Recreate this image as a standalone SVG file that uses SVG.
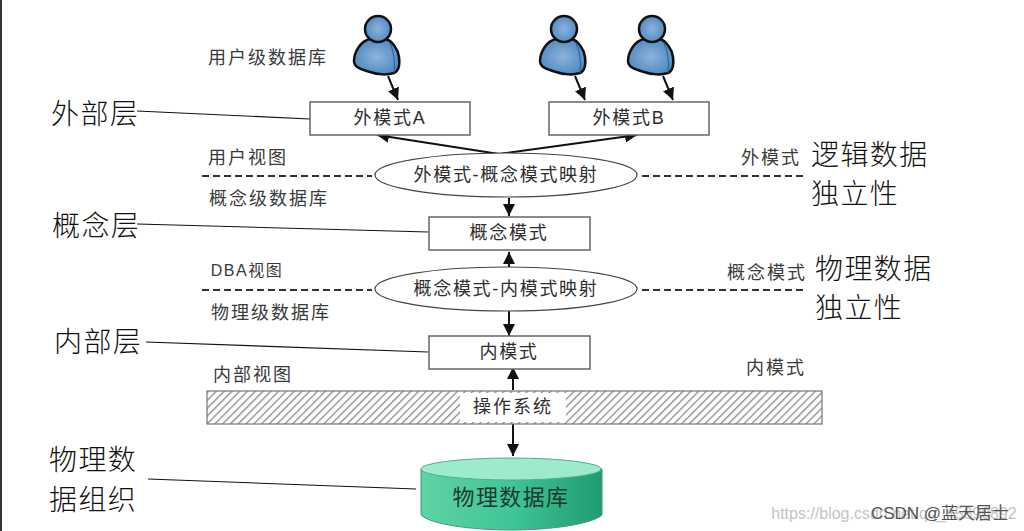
<svg xmlns="http://www.w3.org/2000/svg" width="1024" height="531" viewBox="0 0 1024 531">
<style>
text{font-family:"Liberation Sans","Noto Sans CJK SC",sans-serif;text-anchor:middle}
.s{font-size:18px;fill:#3a3a3a;letter-spacing:2px}
.n{font-size:18px;fill:#2e2e2e;letter-spacing:1.7px}
.l{font-size:28px;fill:#111;font-weight:300;text-anchor:start;letter-spacing:1.4px}
.box{fill:#fff;stroke:#666;stroke-width:1.5}
.ell{fill:#fff;stroke:#444;stroke-width:1.2}
.a{stroke:#111;stroke-width:2;fill:none;marker-end:url(#ah)}
.d{stroke:#333;stroke-width:2;stroke-dasharray:7 4;fill:none}
.t{stroke:#111;stroke-width:1.1;fill:none}
.body{fill:url(#blue);stroke:#111;stroke-width:2.5}
</style>
<defs>
<marker id="ah" markerUnits="userSpaceOnUse" markerWidth="13" markerHeight="12" refX="12" refY="6" orient="auto"><path d="M0 0L12 6L0 12z" fill="#111"/></marker>
<pattern id="h" patternUnits="userSpaceOnUse" width="5.5" height="5.5" patternTransform="rotate(-45)"><rect width="5.5" height="5.5" fill="#fff"/><rect width="5.5" height="1.3" fill="#8a8a8a"/></pattern>
<radialGradient id="blue" cx=".5" cy=".5" r=".7"><stop offset="0" stop-color="#8db4dc"/><stop offset="1" stop-color="#3d7cb8"/></radialGradient>
<linearGradient id="cyl" x1="0" x2="1" y1="0" y2="0"><stop offset="0" stop-color="#5fd3a5"/><stop offset=".5" stop-color="#3fc596"/><stop offset="1" stop-color="#1f9c72"/></linearGradient>
<g id="user"><path d="M-8 10C-18 12 -24 24 -24 32C-24 38 -18 40 -8 43C0 46 10 46 16 44C21 42 22 36 21 28C20 20 14 12 8 10Z" class="body"/><path d="M12 14Q18 28 16 44" fill="none" stroke="#2a5f92" stroke-width="1"/><circle r="13" class="body"/></g>
</defs>
<rect width="1024" height="531" fill="#fff"/>
<rect x="0" y="0" width="2" height="531" fill="#333"/>
<g id="connectors">
<path class="a" d="M388 76L398 100"/>
<path class="a" d="M575 76L585 100"/>
<path class="a" d="M663 76L673 100"/>
<path class="a" d="M499 154L377 135"/>
<path class="a" d="M499 154L637 135"/>
<path class="a" d="M509 198V216"/>
<path class="a" d="M509 270V252"/>
<path class="a" d="M509 311V336"/>
<path class="a" d="M513 390V367"/>
<path class="a" d="M513 424V456"/>
<path class="d" d="M202 176H372"/>
<path class="d" d="M642 176H805"/>
<path class="d" d="M202 290H372"/>
<path class="d" d="M642 290H805"/>
<path class="t" d="M137 111L310 119"/>
<path class="t" d="M137 224L428 232"/>
<path class="t" d="M146 342L428 352"/>
<path class="t" d="M148 479L416 489"/>
</g>
<g id="user-a"><use href="#user" x="378" y="29"/></g>
<g id="user-b"><use href="#user" x="564" y="29"/></g>
<g id="user-c"><use href="#user" x="652" y="29"/></g>
<g id="ext-a"><rect class="box" x="310" y="102" width="160" height="33"/><text class="n" x="390" y="124">外模式A</text></g>
<g id="ext-b"><rect class="box" x="549" y="102" width="160" height="33"/><text class="n" x="629" y="124">外模式B</text></g>
<g id="map1"><ellipse class="ell" cx="506" cy="175" rx="131" ry="22"/><text class="n" x="506" y="181">外模式-概念模式映射</text></g>
<g id="concept"><rect class="box" x="429" y="217" width="161" height="33"/><text class="n" x="509" y="239">概念模式</text></g>
<g id="map2"><ellipse class="ell" cx="506" cy="289" rx="131" ry="22"/><text class="n" x="506" y="295">概念模式-内模式映射</text></g>
<g id="internal"><rect class="box" x="429" y="336" width="161" height="33"/><text class="n" x="509" y="358">内模式</text></g>
<g id="os"><rect x="207" y="391" width="615" height="33" fill="url(#h)" stroke="#777" stroke-width="1.2"/><rect x="460" y="393" width="106" height="29" fill="#fff"/><text class="n" x="513" y="413" style="letter-spacing:2px">操作系统</text></g>
<g id="db"><path d="M421 469V515C430 524 470 530 511 530C552 530 592 524 602 515V469Z" fill="url(#cyl)" stroke="#3d9c7c" stroke-width="1"/><ellipse cx="511" cy="469" rx="90" ry="11" fill="#9ceccb" stroke="#5aa98d" stroke-width="1"/><text x="511" y="505" style="font-size:22px;fill:#1e3a30;letter-spacing:1.4px">物理数据库</text></g>
<g id="labels">
<text class="s" x="268" y="64">用户级数据库</text>
<text class="s" x="248" y="164">用户视图</text>
<text class="s" x="269" y="205">概念级数据库</text>
<text class="s" x="247" y="276" style="font-size:16px;letter-spacing:1.5px">DBA视图</text>
<text class="s" x="271" y="319">物理级数据库</text>
<text class="s" x="253" y="381">内部视图</text>
<text class="s" x="771" y="164">外模式</text>
<text class="s" x="767" y="279">概念模式</text>
<text class="s" x="776" y="374">内模式</text>
<text class="l" x="51" y="124">外部层</text>
<text class="l" x="52" y="236">概念层</text>
<text class="l" x="54" y="352">内部层</text>
<text class="l" x="49" y="470">物理数</text>
<text class="l" x="49" y="510">据组织</text>
<text class="l" x="811" y="165">逻辑数据</text>
<text class="l" x="811" y="204">独立性</text>
<text class="l" x="815" y="279">物理数据</text>
<text class="l" x="815" y="318">独立性</text>
<text x="894" y="519" style="font-size:16px;fill:#c4c4c4">https://blog.csdn.net/qq_45890892</text>
<text x="940" y="519" style="font-size:17px;fill:#555">CSDN @蓝天居士</text>
</g>
</svg>
